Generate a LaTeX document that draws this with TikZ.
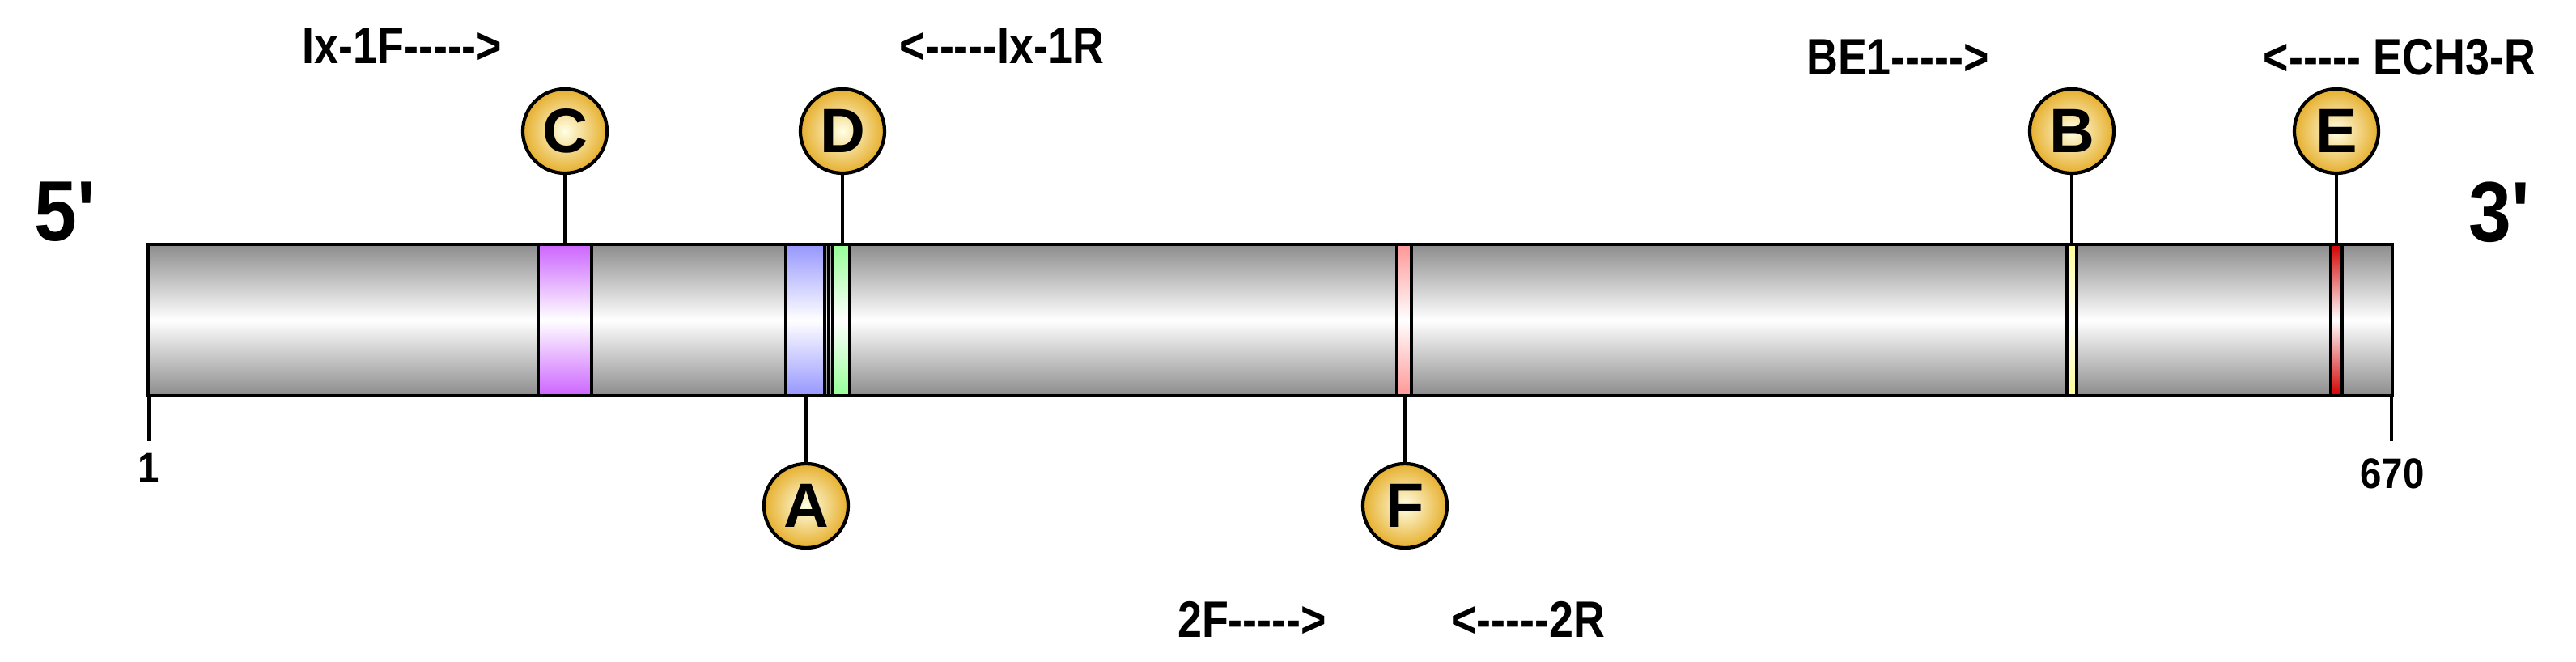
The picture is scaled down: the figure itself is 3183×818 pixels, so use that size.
\documentclass[tikz,border=0pt]{standalone}
\usepackage{fontspec}
\setmainfont{Liberation Sans}
\definecolor{cmag}{RGB}{204,100,255}
\definecolor{cblu}{RGB}{150,150,255}
\definecolor{cgrn}{RGB}{150,255,150}
\definecolor{cpnk}{RGB}{255,150,150}
\definecolor{cyel}{RGB}{255,255,150}
\definecolor{cred}{RGB}{210,0,0}
\definecolor{cgold}{RGB}{230,175,45}
\definecolor{cbar}{RGB}{140,140,140}
\newcommand\dsh{-{}-{}-{}-{}-}
\begin{document}
\begin{tikzpicture}[x=0.01cm,y=-0.01cm,
  bar/.style={top color=cbar,bottom color=cbar,middle color=white},
  band/.style={top color=#1,bottom color=#1,middle color=white},
  edge/.style={line width=1.4pt},
  site/.style={circle,draw=black,line width=1.2pt,minimum size=1.04cm,inner sep=0pt,
     inner color=yellow!10,outer color=cgold,font=\fontsize{22}{22}\bfseries},
  lbl/.style={font=\fontsize{18}{18}\bfseries,xscale=0.85},
  num/.style={font=\fontsize{15}{15}\bfseries,xscale=0.9},
  conn/.style={line width=1.2pt}]
\useasboundingbox (0,0) rectangle (3183,818);
\shade[bar] (183,302) rectangle (2956,489);
\draw[edge] (183,302) rectangle (2956,489);
\shade[band=cmag] (665,302) rectangle (731,489);
\draw[edge] (665,302) rectangle (731,489);
\shade[band=cblu] (971,302) rectangle (1019,489);
\draw[edge] (971,302) rectangle (1019,489);
\shade[band=cgrn] (1029,302) rectangle (1050,489);
\draw[edge] (1024,302) -- (1024,489) (1029,302) rectangle (1050,489);
\shade[band=cpnk] (1726,302) rectangle (1744,489);
\draw[edge] (1726,302) rectangle (1744,489);
\shade[band=cyel] (2554,302) rectangle (2566,489);
\draw[edge] (2554,302) rectangle (2566,489);
\shade[band=cred] (2880,302) rectangle (2894,489);
\draw[edge] (2880,302) rectangle (2894,489);

\node[site] (C) at (698,162) {C};
\node[site] (D) at (1041,162) {D};
\node[site] (B) at (2560,162) {B};
\node[site] (E) at (2887,162) {E};
\node[site] (A) at (996,625) {A};
\node[site] (F) at (1736,625) {F};
\coordinate (c1) at (698,302);
\coordinate (d1) at (1041,302);
\coordinate (b1) at (2560,302);
\coordinate (e1) at (2887,302);
\coordinate (a1) at (996,489);
\coordinate (f1) at (1736,489);
\draw[conn] (C) -- (c1); \draw[conn] (D) -- (d1); \draw[conn] (B) -- (b1);
\draw[conn] (E) -- (e1); \draw[conn] (A) -- (a1); \draw[conn] (F) -- (f1);
\coordinate (t1a) at (184,489); \coordinate (t1b) at (184,545);
\coordinate (t2a) at (2955,489); \coordinate (t2b) at (2955,545);
\draw[conn] (t1a) -- (t1b); \draw[conn] (t2a) -- (t2b);
\node[num] (n1) at (184,578) {1};
\node[num] (n670) at (2956,585) {670};
\node[font=\fontsize{30}{30}\bfseries,xscale=0.9] (p5) at (80,262) {5\textquotesingle};
\node[font=\fontsize{30}{30}\bfseries,xscale=0.9] (p3) at (3088,262) {3\textquotesingle};
\node[lbl] (l1) at (497,57) {Ix-1F\dsh>};
\node[lbl] (l2) at (1238,57) {<\dsh Ix-1R};
\node[lbl] (l3) at (2345,71) {BE1\dsh>};
\node[lbl] (l4) at (2965,71) {<\dsh\ ECH3-R};
\node[lbl] (l5) at (1547,765) {2F\dsh>};
\node[lbl] (l6) at (1888,765) {<\dsh 2R};
\end{tikzpicture}
\end{document}
